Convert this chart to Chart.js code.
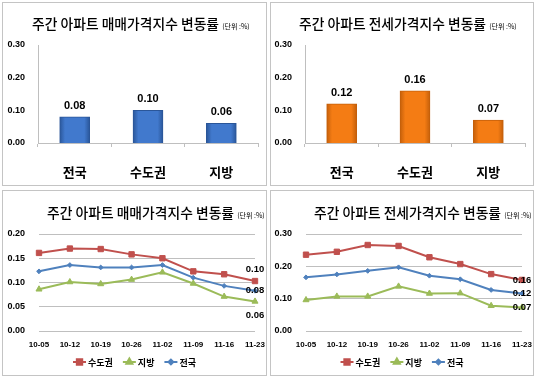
<!DOCTYPE html>
<html>
<head>
<meta charset="utf-8">
<script src="https://cdn.jsdelivr.net/npm/chart.js@4.4.0/dist/chart.umd.min.js"></script>
<style>
body { margin: 0; background: #fff; }
#wrap { position: relative; width: 535px; height: 379px; overflow: hidden; background: #fff; }
.panel { position: absolute; border: 1px solid #c4c4c4; box-sizing: border-box; }
.panel canvas { position: absolute; left: 0; top: 0; }
.title { position: absolute; font-family: "Noto Sans CJK KR", sans-serif; font-size: 13.8px; font-weight: 500; line-height: 16px; color: #000; white-space: nowrap; }
.title small { font-size: 7px; font-weight: 400; }
</style>
</head>
<body>
<div id="wrap">
  <div class="panel" style="left:2px;top:2px;width:265px;height:184px"><canvas id="saleBar" width="263" height="182"></canvas></div>
  <div class="panel" style="left:270px;top:2px;width:264px;height:184px"><canvas id="rentBar" width="262" height="182"></canvas></div>
  <div class="panel" style="left:2px;top:190px;width:265px;height:186px"><canvas id="saleLine" width="263" height="184"></canvas></div>
  <div class="panel" style="left:270px;top:190px;width:264px;height:186px"><canvas id="rentLine" width="262" height="184"></canvas></div>

  <div class="title" style="left:32px;top:15px">주간 아파트 매매가격지수 변동률 <small>(단위 :%)</small></div>
  <div class="title" style="left:299px;top:15px">주간 아파트 전세가격지수 변동률 <small>(단위 :%)</small></div>
  <div class="title" style="left:47px;top:204px">주간 아파트 매매가격지수 변동률 <small>(단위 :%)</small></div>
  <div class="title" style="left:314px;top:204px">주간 아파트 전세가격지수 변동률 <small>(단위 :%)</small></div>
</div>
<script>
// data
const barCats = ['전국', '수도권', '지방'];
const saleBarVals = [0.08, 0.10, 0.06];
const rentBarVals = [0.12, 0.16, 0.07];

const weeks = ['10-05', '10-12', '10-19', '10-26', '11-02', '11-09', '11-16', '11-23'];
const seriesNames = ['수도권', '지방', '전국'];
const saleCapital = [0.161, 0.170, 0.169, 0.158, 0.150, 0.123, 0.117, 0.103];
const saleLocal = [0.086, 0.101, 0.097, 0.106, 0.121, 0.098, 0.071, 0.061];
const saleNation = [0.123, 0.136, 0.131, 0.131, 0.136, 0.110, 0.093, 0.083];
const rentCapital = [0.236, 0.245, 0.266, 0.263, 0.228, 0.207, 0.176, 0.158];
const rentLocal = [0.096, 0.107, 0.107, 0.138, 0.116, 0.117, 0.078, 0.073];
const rentNation = [0.166, 0.175, 0.186, 0.197, 0.171, 0.160, 0.127, 0.116];

const FONT = 'Arial, "Liberation Sans", "Noto Sans CJK KR", sans-serif';
const KFONT = '"Noto Sans CJK KR", sans-serif';
const AXIS = '#bfbfbf';

// value labels on top of the bars
const barLabels = {
    id: 'barLabels',
    afterDatasetsDraw(chart) {
        const ctx = chart.ctx;
        const ds = chart.data.datasets[0];
        ctx.save();
        ctx.font = 'bold 11px ' + FONT;
        ctx.fillStyle = '#000';
        ctx.textAlign = 'center';
        ctx.textBaseline = 'middle';
        chart.getDatasetMeta(0).data.forEach(function (bar, i) {
            ctx.fillText(ds.data[i].toFixed(2), bar.x, bar.y - 11);
        });
        ctx.restore();
    }
};

// last value of every series, drawn at the right end
const endLabels = {
    id: 'endLabels',
    afterDatasetsDraw(chart) {
        const ctx = chart.ctx;
        const dy = chart.options.plugins.endLabels.dy;
        ctx.save();
        ctx.font = 'bold 9.5px ' + FONT;
        ctx.fillStyle = '#000';
        ctx.textAlign = 'center';
        ctx.textBaseline = 'middle';
        chart.data.datasets.forEach(function (ds, i) {
            const pts = chart.getDatasetMeta(i).data;
            const last = pts[pts.length - 1];
            ctx.fillText(ds.data[ds.data.length - 1].toFixed(2), last.x, last.y + dy[i]);
        });
        ctx.restore();
    }
};

// legend with a short line and marker, like the office chart
const lineLegend = {
    id: 'lineLegend',
    afterDraw(chart) {
        const ctx = chart.ctx;
        const y = chart.options.plugins.lineLegend.y;
        const iconW = 13, gap = 2, space = 10;
        ctx.save();
        ctx.font = 'bold 9px ' + KFONT;
        const widths = chart.data.datasets.map(ds => ctx.measureText(ds.label).width);
        let total = space * (widths.length - 1);
        widths.forEach(w => total += iconW + gap + w);
        let x = chart.width / 2 - total / 2;
        chart.data.datasets.forEach(function (ds, i) {
            ctx.strokeStyle = ds.borderColor;
            ctx.fillStyle = ds.borderColor;
            ctx.lineWidth = 2;
            ctx.beginPath();
            ctx.moveTo(x, y);
            ctx.lineTo(x + iconW, y);
            ctx.stroke();
            Chart.helpers.drawPoint(ctx, {
                pointStyle: ds.pointStyle, radius: ds.pointRadius, borderWidth: 1, rotation: 0
            }, x + iconW / 2, y);
            ctx.fillStyle = '#000';
            ctx.textAlign = 'left';
            ctx.textBaseline = 'middle';
            ctx.fillText(ds.label, x + iconW + gap, y + 0.5);
            x += iconW + gap + widths[i] + space;
        });
        ctx.restore();
    }
};

function barChart(id, values, main, dark, rightPad, axisW, tickPad) {
    const fill = function (c) {
        const chart = c.chart;
        if (!chart.chartArea) return main;
        const x = chart.scales.x.getPixelForValue(c.dataIndex);
        const g = chart.ctx.createLinearGradient(x - 15, 0, x + 15, 0);
        g.addColorStop(0, dark);
        g.addColorStop(0.18, main);
        g.addColorStop(0.82, main);
        g.addColorStop(1, dark);
        return g;
    };
    return new Chart(document.getElementById(id), {
        type: 'bar',
        data: {
            labels: barCats,
            datasets: [{
                data: values,
                backgroundColor: fill,
                borderColor: dark,
                borderWidth: 1,
                barThickness: 30
            }]
        },
        options: {
            responsive: false,
            animation: false,
            layout: { padding: { top: 42, right: rightPad, left: 0, bottom: 0 } },
            plugins: { legend: { display: false }, tooltip: { enabled: false } },
            scales: {
                x: {
                    grid: { display: true, drawOnChartArea: false, tickLength: 4, color: AXIS },
                    border: { color: AXIS },
                    ticks: { font: { family: KFONT, size: 13, weight: 'bold' }, color: '#000', padding: 17 },
                    afterFit(s) { s.height = 42; }
                },
                y: {
                    min: 0,
                    max: 0.3,
                    ticks: {
                        stepSize: 0.1,
                        callback: v => v.toFixed(2),
                        font: { family: FONT, size: 9, weight: 'bold' },
                        color: '#000',
                        padding: tickPad
                    },
                    grid: { display: false, drawTicks: false },
                    border: { display: true, color: AXIS },
                    afterFit(s) { s.width = axisW; }
                }
            }
        },
        plugins: [barLabels]
    });
}

function lineChart(id, capital, local, nation, yMax, step, dy, rightPad, axisW) {
    const make = (label, data, color, style, r) => ({
        label: label,
        data: data,
        borderColor: color,
        backgroundColor: color,
        borderWidth: 2,
        pointStyle: style,
        pointRadius: r,
        pointBorderWidth: 1,
        clip: false
    });
    return new Chart(document.getElementById(id), {
        type: 'line',
        data: {
            labels: weeks,
            datasets: [
                make(seriesNames[0], capital, '#c0504d', 'rect', 3.8),
                make(seriesNames[1], local, '#9bbb59', 'triangle', 3.5),
                make(seriesNames[2], nation, '#4f81bd', 'rectRot', 2.4)
            ]
        },
        options: {
            responsive: false,
            animation: false,
            layout: { padding: { top: 43, right: rightPad, left: 0, bottom: 0 } },
            plugins: {
                legend: { display: false },
                tooltip: { enabled: false },
                endLabels: { dy: dy },
                lineLegend: { y: 171 }
            },
            scales: {
                x: {
                    // tick marks are not drawn, their length only pushes the labels down
                    grid: { display: false, drawTicks: true, tickLength: 9 },
                    border: { display: false },
                    ticks: {
                        font: { family: FONT, size: 8, weight: 'bold' },
                        color: '#000',
                        padding: 0,
                        maxRotation: 0,
                        autoSkip: false
                    },
                    afterFit(s) { s.height = 44; }
                },
                y: {
                    min: 0,
                    max: yMax,
                    ticks: {
                        stepSize: step,
                        callback: v => v.toFixed(2),
                        font: { family: FONT, size: 9, weight: 'bold' },
                        color: '#000',
                        padding: 14
                    },
                    grid: { color: AXIS, drawTicks: false },
                    border: { display: false },
                    afterFit(s) { s.width = axisW; }
                }
            }
        },
        plugins: [endLabels, lineLegend]
    });
}

barChart('saleBar', saleBarVals, '#4179cd', '#2a5699', 8, 35, 13);
barChart('rentBar', rentBarVals, '#f47c14', '#c45f0a', 8, 34, 13);
lineChart('saleLine', saleCapital, saleLocal, saleNation, 0.2, 0.05, [-12, 14, 0], 11, 36);
lineChart('rentLine', rentCapital, rentLocal, rentNation, 0.3, 0.1, [0, 0, 0], 11, 35);
</script>
</body>
</html>
